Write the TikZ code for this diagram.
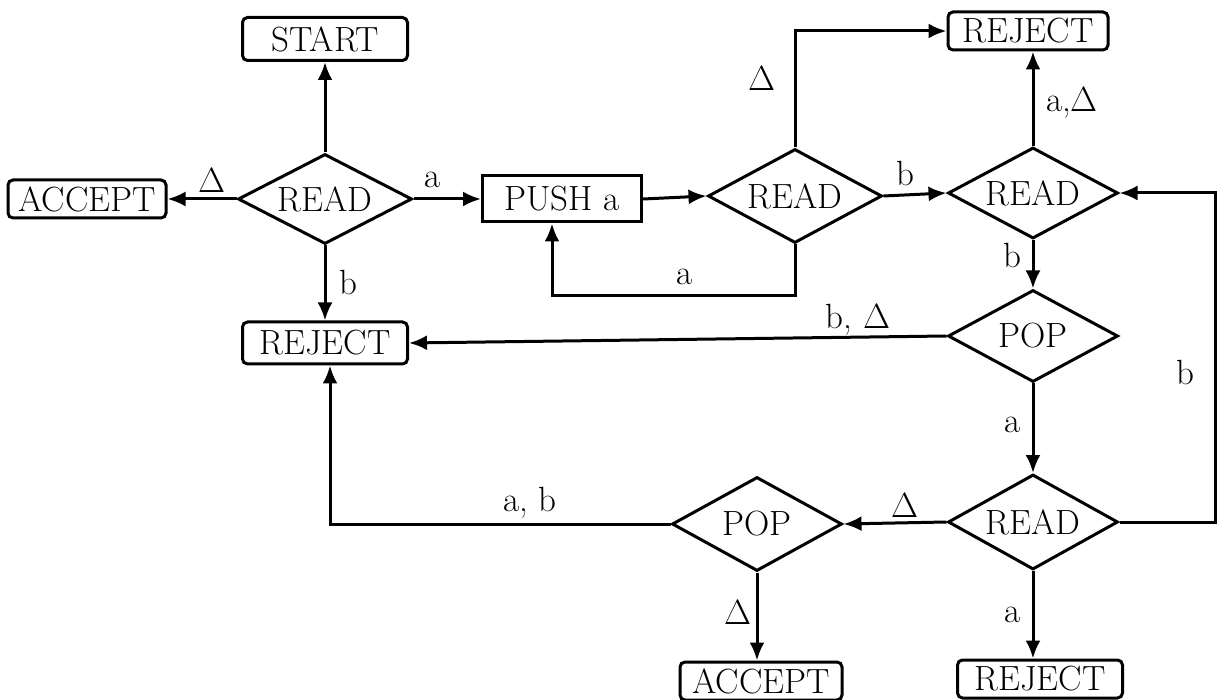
\documentclass[tikz,border=0pt]{standalone}
\usetikzlibrary{arrows.meta,shapes.geometric}
\begin{document}
\begin{tikzpicture}[x=1pt,y=-1pt,
  font=\fontsize{35}{37}\selectfont,
  line width=3pt,
  box/.style={draw, rounded corners=5pt, inner sep=0pt, line width=3pt},
  pbox/.style={draw, inner sep=0pt, line width=3pt},
  dia/.style={draw, diamond, inner sep=0pt, line width=3pt},
  arr/.style={-{Latex[length=18pt,width=15pt]}, line width=3pt},
  lbl/.style={inner sep=0pt}]
\useasboundingbox (0,0) rectangle (1221,700);
% nodes
\node[box, minimum width=165pt, minimum height=43pt] (start) at (325,39) {START};
\node[dia, minimum width=174pt, minimum height=90pt, label=center:READ] (r1) at (325,199) {};
\node[box, minimum width=158pt, minimum height=38pt] (acc1) at (87,199) {ACCEPT};
\node[pbox, minimum width=159pt, minimum height=46pt] (push) at (562,199) {PUSH a};
\node[dia, minimum width=174pt, minimum height=94pt, label=center:READ] (r2) at (795,196) {};
\node[dia, minimum width=170pt, minimum height=91pt, label=center:READ] (r3) at (1033,193) {};
\node[box, minimum width=160pt, minimum height=38pt] (rej1) at (1028,31) {REJECT};
\node[box, minimum width=165pt, minimum height=42pt] (rej2) at (325,343) {REJECT};
\node[dia, minimum width=170pt, minimum height=92pt, label=center:POP] (p1) at (1033,336) {};
\node[dia, minimum width=170pt, minimum height=95pt, label=center:READ] (r4) at (1033,522) {};
\node[dia, minimum width=170pt, minimum height=94pt, label=center:POP] (p2) at (757,524) {};
\node[box, minimum width=162pt, minimum height=38pt] (acc2) at (761,681) {ACCEPT};
\node[box, minimum width=165pt, minimum height=38pt] (rej3) at (1040,679) {REJECT};
\coordinate (rc) at (1215,357);
% connectors
\draw[arr] (r1.north) -- (start.south);
\draw[arr] (r1.west) -- (acc1.east);
\draw[arr] (r1.east) -- (push.west);
\draw[arr] (r1.south) -- (rej2.north);
\draw[arr] (push.east) -- (r2.west);
\draw[arr] (r2.south) -- (r2.south |- 0,296) -| ([xshift=-10pt]push.south);
\draw[arr] (r2.north) |- (rej1.west);
\draw[arr] (r2.east) -- (r3.west);
\draw[arr] (r3.north) -- (rej1.south -| r3.north);
\draw[arr] (r3.south) -- (p1.north);
\draw[arr] (p1.west) -- (rej2.east);
\draw[arr] (p1.south) -- (r4.north);
\draw[arr] (r4.east) -| (rc) |- (r3.east);
\draw[arr] (r4.west) -- (p2.east);
\draw[arr] (p2.west) -| ([xshift=5pt]rej2.south);
\draw[arr] (p2.south) -- (p2.south |- acc2.north);
\draw[arr] (r4.south) -- (r4.south |- rej3.north);
% labels
\node[lbl] (l1) at (212,180) {Δ};
\node[lbl] (l2) at (433,180) {a};
\node[lbl] (l3) at (348,282) {b};
\node[lbl] (l4) at (685,277) {a};
\node[lbl] (l5) at (762,78) {Δ};
\node[lbl] (l6) at (905,173) {b};
\node[lbl] (l7) at (1072,103) {a,Δ};
\node[lbl] (l8) at (1012,255) {b};
\node[lbl] (l9) at (858,320) {b, Δ};
\node[lbl] (l10) at (1013,425) {a};
\node[lbl] (l11) at (1185,372) {b};
\node[lbl] (l12) at (905,505) {Δ};
\node[lbl] (l13) at (530,503) {a, b};
\node[lbl] (l14) at (738,612) {Δ};
\node[lbl] (l15) at (1013,615) {a};
\end{tikzpicture}
\end{document}
